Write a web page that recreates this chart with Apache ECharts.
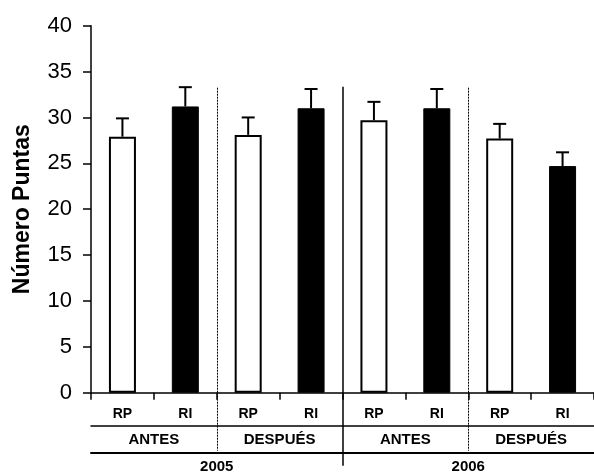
<!DOCTYPE html>
<html>
<head>
<meta charset="utf-8">
<script src="https://cdn.jsdelivr.net/npm/echarts@6/dist/echarts.min.js"></script>
<style>html,body{margin:0;padding:0;background:#fff;}#c{width:594px;height:474px;}</style>
</head>
<body>
<div id="c"></div>
<script>
// ---- data ----
const categories = ['RP', 'RI', 'RP', 'RI', 'RP', 'RI', 'RP', 'RI'];
const means = [27.9, 31.2, 28.1, 31.0, 29.7, 31.0, 27.7, 24.7];
const errors = [2.0, 2.1, 1.9, 2.1, 2.0, 2.1, 1.6, 1.5];
const periods = ['ANTES', 'DESPUÉS', 'ANTES', 'DESPUÉS'];
const years = ['2005', '2006'];
const yTickValues = [0, 5, 10, 15, 20, 25, 30, 35, 40];

// boundaries between groups, in category units
const perPeriod = categories.length / periods.length;
const perYear = categories.length / years.length;
const periodBounds = periods.map((p, i) => i * perPeriod).filter(v => v > 0 && v % perYear !== 0);
const yearBounds = years.map((y, i) => i * perYear).filter(v => v > 0);

const FONT = "'Liberation Sans', Arial, Helvetica, sans-serif";
const chart = echarts.init(document.getElementById('c'), null, {renderer: 'canvas'});

function sepAxis(values, inside, len, type, width) {
  return {
    type: 'value', min: 0, max: categories.length, gridIndex: 0, position: 'bottom',
    axisLine: {show: false}, splitLine: {show: false}, axisLabel: {show: false},
    axisTick: {show: true, inside: inside, length: len, customValues: values,
      lineStyle: {color: '#000', width: width, type: type}}
  };
}

const option = {
  animation: false,
  backgroundColor: '#fff',
  grid: {left: 91, right: -5, top: 25.7, bottom: 79.3, containLabel: false},
  yAxis: {
    type: 'value', min: yTickValues[0], max: yTickValues[yTickValues.length - 1], interval: 5,
    name: 'Número Puntas', nameLocation: 'middle', nameGap: 57,
    nameTextStyle: {fontFamily: FONT, fontSize: 23, fontWeight: 'bold', color: '#000'},
    axisLine: {show: true, lineStyle: {color: '#000', width: 1.5}},
    axisTick: {show: true, inside: false, length: 8, lineStyle: {color: '#000', width: 1.5}},
    axisLabel: {fontFamily: FONT, fontSize: 22, color: '#000', margin: 19},
    splitLine: {show: false}
  },
  xAxis: [
    { // bar categories
      type: 'category', data: categories, gridIndex: 0, position: 'bottom',
      axisLine: {show: true, lineStyle: {color: '#000', width: 1.5}},
      axisTick: {show: true, length: 7, lineStyle: {color: '#000', width: 1.5}},
      axisLabel: {fontFamily: FONT, fontSize: 14, fontWeight: 'bold', color: '#000', margin: 14}
    },
    { // line under RP/RI row
      type: 'category', data: categories, gridIndex: 0, position: 'bottom', offset: 32.6,
      axisLine: {show: true, lineStyle: {color: '#000', width: 1.5}},
      axisTick: {show: false}, axisLabel: {show: false}
    },
    { // periods
      type: 'category', data: periods, gridIndex: 0, position: 'bottom', offset: 60.3,
      axisLine: {show: true, lineStyle: {color: '#000', width: 2}},
      axisTick: {show: false},
      axisLabel: {inside: true, fontFamily: FONT, fontSize: 15, fontWeight: 'bold', color: '#000', margin: 6}
    },
    { // years
      type: 'category', data: years, gridIndex: 0, position: 'bottom', offset: 60.3,
      axisLine: {show: false},
      axisTick: {show: false},
      axisLabel: {fontFamily: FONT, fontSize: 15, fontWeight: 'bold', color: '#000', margin: 6}
    },
    sepAxis(periodBounds, true, 306, [2, 1], 1),
    sepAxis(periodBounds, false, 58, [2, 1], 1),
    sepAxis(yearBounds, true, 306, 'solid', 1.5),
    sepAxis(yearBounds, false, 73, 'solid', 1.5)
  ],
  series: [
    {
      type: 'bar', xAxisIndex: 0, yAxisIndex: 0, barWidth: 27,
      data: means.map((m, i) => ({
        value: m,
        itemStyle: categories[i] === 'RP'
          ? {color: '#fff', borderColor: '#000', borderWidth: 2}
          : {color: '#000', borderColor: '#000', borderWidth: 1}
      }))
    },
    {
      type: 'custom', xAxisIndex: 0, yAxisIndex: 0, z: 3,
      data: means.map((m, i) => [i, m, errors[i]]),
      renderItem: function (params, api) {
        const x = api.value(0), m = api.value(1), e = api.value(2);
        const base = api.coord([x, m]);
        const top = api.coord([x, m + e]);
        const hw = 6.5;
        return {
          type: 'group',
          children: [
            {type: 'line', shape: {x1: base[0], y1: base[1], x2: top[0], y2: top[1]},
              style: {stroke: '#000', lineWidth: 2}},
            {type: 'line', shape: {x1: top[0] - hw, y1: top[1], x2: top[0] + hw, y2: top[1]},
              style: {stroke: '#000', lineWidth: 2}}
          ]
        };
      }
    }
  ]
};
chart.setOption(option);
</script>
</body>
</html>
